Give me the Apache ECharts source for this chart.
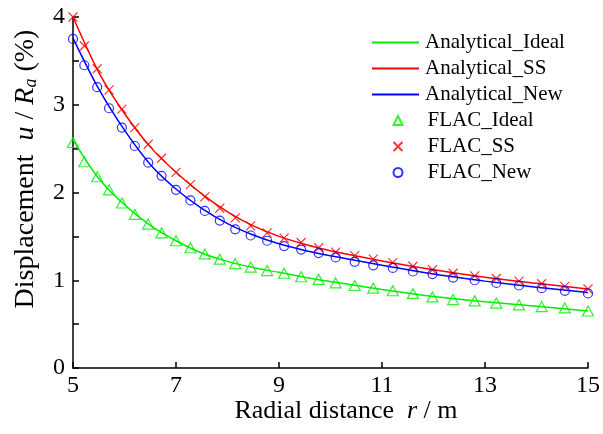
<!DOCTYPE html>
<html><head><meta charset="utf-8">
<script src="https://cdn.jsdelivr.net/npm/echarts@6/dist/echarts.min.js"></script>
<style>html,body{margin:0;padding:0;background:#fff}#c{width:603px;height:434px}</style>
</head><body><div id="c"></div>
<script>
var xTicks = [5, 7, 9, 11, 13, 15];
var yTicks = [0, 1, 2, 3, 4];
var rLine = [5, 5.5, 6, 6.5, 7, 7.5, 8, 8.5, 9, 9.5, 10, 11, 12, 13, 14, 15];
var anaIdeal = [2.60, 2.16, 1.86, 1.625, 1.45, 1.31, 1.215, 1.145, 1.09, 1.035, 0.985, 0.895, 0.815, 0.755, 0.705, 0.65];
var anaSS = [4.00, 3.37, 2.90, 2.52, 2.23, 1.985, 1.78, 1.62, 1.50, 1.41, 1.335, 1.22, 1.12, 1.035, 0.965, 0.90];
var anaNew = [3.76, 3.18, 2.71, 2.32, 2.04, 1.82, 1.645, 1.515, 1.415, 1.34, 1.28, 1.17, 1.07, 0.99, 0.92, 0.86];
var rFlac = [5.00, 5.22, 5.47, 5.70, 5.95, 6.20, 6.46, 6.72, 7.00, 7.28, 7.56, 7.85, 8.15, 8.45, 8.77, 9.10, 9.43, 9.77, 10.10, 10.47, 10.83, 11.21, 11.60, 11.98, 12.38, 12.80, 13.22, 13.66, 14.10, 14.55, 15.00];
var flacIdeal = [2.57, 2.35, 2.18, 2.03, 1.88, 1.75, 1.64, 1.54, 1.45, 1.37, 1.30, 1.24, 1.19, 1.15, 1.11, 1.08, 1.04, 1.01, 0.97, 0.94, 0.91, 0.88, 0.85, 0.81, 0.78, 0.765, 0.74, 0.72, 0.70, 0.685, 0.65];
var flacSS = [4.00, 3.67, 3.41, 3.17, 2.95, 2.74, 2.55, 2.39, 2.23, 2.09, 1.95, 1.82, 1.71, 1.62, 1.54, 1.48, 1.43, 1.37, 1.32, 1.28, 1.24, 1.20, 1.16, 1.12, 1.08, 1.05, 1.02, 0.99, 0.96, 0.93, 0.90];
var flacNew = [3.75, 3.45, 3.20, 2.96, 2.74, 2.53, 2.34, 2.19, 2.03, 1.91, 1.79, 1.68, 1.58, 1.51, 1.45, 1.39, 1.35, 1.31, 1.26, 1.21, 1.17, 1.14, 1.10, 1.07, 1.03, 1.00, 0.97, 0.94, 0.91, 0.88, 0.85];

var GREEN = '#00ee00', RED = '#ff0000', BLUE = '#0000ff';
var FONT = '"Liberation Serif", "Times New Roman", serif';
function zip(xs, ys) { return xs.map(function (x, i) { return [x, ys[i]]; }); }
var crossPath = 'path://M0,0L10,10M10,0L0,10';

function lineSeries(name, ys, color) {
  return { name: name, type: 'line', data: zip(rLine, ys), smooth: 0.3,
    showSymbol: false, symbol: 'none', lineStyle: { color: color, width: 1.5 }, itemStyle: { color: color },
    z: 2, animation: false };
}
function markSeries(name, ys, color, symbol, size) {
  return { name: name, type: 'scatter', data: zip(rFlac, ys), symbol: symbol, symbolSize: size,
    itemStyle: { color: 'none', borderColor: color, borderWidth: 1.2 }, z: 3, animation: false };
}

var chart = echarts.init(document.getElementById('c'), null, { renderer: 'canvas' });
chart.setOption({
  backgroundColor: '#fff',
  animation: false,
  grid: { left: 73, right: 12, top: 17, bottom: 66, containLabel: false },
  xAxis: {
    type: 'value', min: 5, max: 15,
    axisLine: { lineStyle: { color: '#000', width: 1.5 } },
    axisTick: { inside: true, length: 6, customValues: xTicks, lineStyle: { color: '#000', width: 1.5 } },
    axisLabel: { customValues: xTicks, color: '#000', fontFamily: FONT, fontSize: 24, margin: 6 },
    splitLine: { show: false }
  },
  yAxis: {
    type: 'value', min: 0, max: 4, interval: 1,
    axisLine: { show: true, lineStyle: { color: '#000', width: 1.5 } },
    axisTick: { show: true, inside: true, length: 6, lineStyle: { color: '#000', width: 1.5 } },
    minorTick: { show: true, splitNumber: 2, length: 6, lineStyle: { color: '#000', width: 1.5 } },
    axisLabel: { color: '#000', fontFamily: FONT, fontSize: 24, margin: 8 },
    splitLine: { show: false }
  },
  legend: [{
    orient: 'vertical', left: 367, top: 27, itemWidth: 47, itemHeight: 2, itemGap: 5, icon: 'rect',
    data: ['Analytical_Ideal', 'Analytical_SS', 'Analytical_New'],
    textStyle: { fontFamily: FONT, fontSize: 21, color: '#000', padding: [0, 0, 0, 1] },
    selectedMode: false
  }, {
    orient: 'vertical', left: 386, top: 105, itemWidth: 9, itemHeight: 9, itemGap: 5,
    data: ['FLAC_Ideal', 'FLAC_SS', 'FLAC_New'],
    textStyle: { fontFamily: FONT, fontSize: 21, color: '#000', padding: [0, 0, 0, 20] },
    selectedMode: false
  }],
  graphic: [{
    type: 'text', x: 26, y: 169, rotation: Math.PI / 2,
    style: {
      text: '{n|Displacement  }{i|u}{n| / }{i|R}{s|a}{n| (%)}',
      align: 'center', verticalAlign: 'middle',
      rich: {
        n: { fontFamily: FONT, fontSize: 28, fill: '#000' },
        i: { fontFamily: FONT, fontSize: 28, fontStyle: 'italic', fill: '#000' },
        s: { fontFamily: FONT, fontSize: 18, fontStyle: 'italic', fill: '#000', verticalAlign: 'bottom', padding: [10, 0, 0, 0] }
      }
    }
  }, {
    type: 'text', x: 346, y: 411,
    style: {
      text: '{n|Radial distance  }{i|r}{n| / m}',
      align: 'center', verticalAlign: 'middle',
      rich: {
        n: { fontFamily: FONT, fontSize: 26, fill: '#000' },
        i: { fontFamily: FONT, fontSize: 26, fontStyle: 'italic', fill: '#000' }
      }
    }
  }],
  series: [
    lineSeries('Analytical_Ideal', anaIdeal, GREEN),
    lineSeries('Analytical_SS', anaSS, RED),
    lineSeries('Analytical_New', anaNew, BLUE),
    markSeries('FLAC_Ideal', flacIdeal, GREEN, 'triangle', [11, 10]),
    markSeries('FLAC_SS', flacSS, RED, crossPath, 9),
    markSeries('FLAC_New', flacNew, BLUE, 'circle', 9)
  ]
});
</script>
</body></html>
